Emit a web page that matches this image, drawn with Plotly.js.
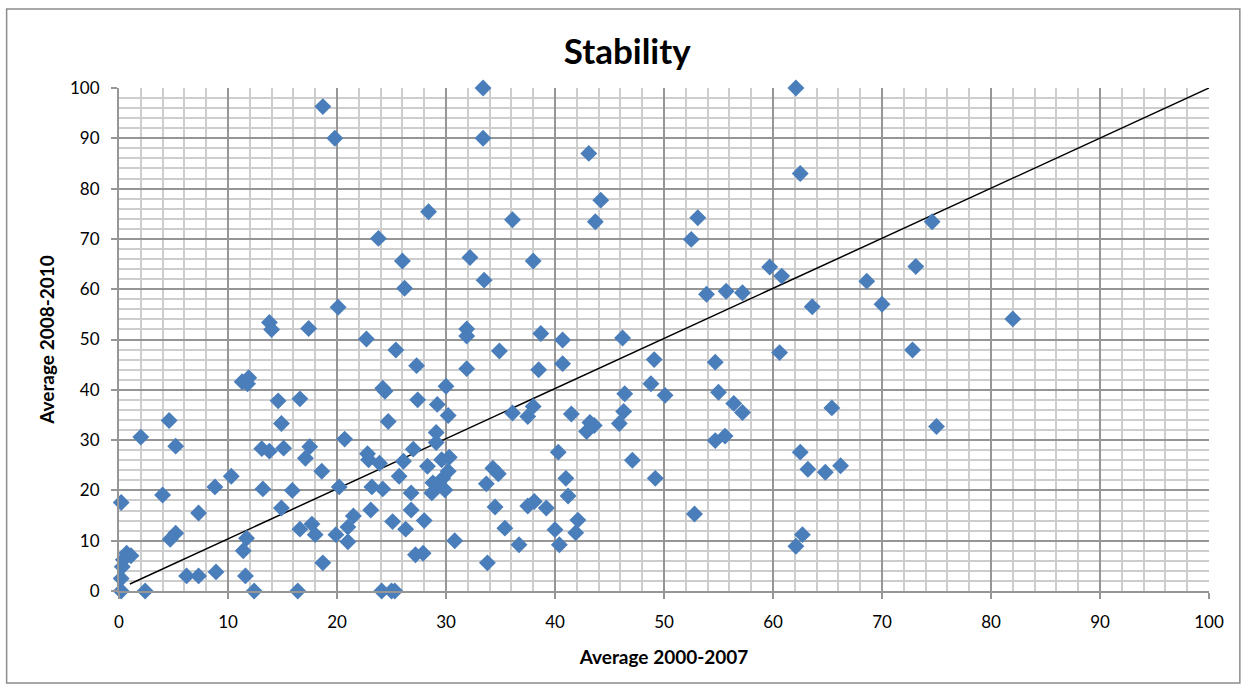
<!DOCTYPE html>
<html>
<head>
<meta charset="utf-8">
<script src="https://cdn.plot.ly/plotly-3.0.1.min.js"></script>
<style>
  html, body { margin: 0; padding: 0; background: #ffffff; }
  #chart { width: 1247px; height: 690px; }
</style>
</head>
<body>
<div id="chart"></div>
<script>
// Average score per country: 2000-2007 (x) against 2008-2010 (y)
const avg2000to2007 = [
  33.4, 33.4, 43.1, 44.2, 43.7, 28.4, 36.1, 23.8, 26.0, 32.2,
  38.0, 18.7, 19.8, 62.1, 62.5, 53.1, 52.5, 74.6, 59.7, 73.1,
  60.8, 53.9, 55.7, 57.2, 68.6, 63.6, 70.0, 60.6, 54.7, 72.8,
  50.1, 55.0, 56.4, 57.2, 65.4, 75.0, 54.7, 55.6, 62.5, 63.2,
  64.8, 66.2, 49.2, 52.8, 62.7, 62.1, 82.0, 26.2, 20.1, 13.8,
  14.0, 17.4, 22.7, 25.4, 11.9, 11.3, 11.8, 14.6, 16.6, 24.2,
  24.4, 4.6, 14.9, 24.7, 2.0, 5.2, 20.7, 13.1, 13.8, 15.1,
  17.5, 22.8, 17.1, 18.6, 10.3, 8.8, 4.0, 0.2, 13.2, 15.9,
  20.2, 22.9, 23.9, 23.2, 24.2, 23.1, 25.1, 14.9, 7.3, 4.7,
  5.2, 11.7, 11.4, 16.6, 17.7, 18.0, 19.9, 21.0, 21.0, 21.5,
  18.7, 0.7, 1.1, 0.4, 0.3, 0.2, 0.2, 2.4, 6.2, 7.3,
  8.9, 11.6, 12.4, 16.4, 24.1, 25.0, 25.3, 27.0, 26.1, 28.3,
  29.1, 29.1, 29.6, 30.3, 25.7, 26.8, 26.8, 30.2, 29.7, 28.8,
  29.3, 28.7, 29.9, 26.3, 28.0, 27.2, 27.9, 30.8, 33.7, 34.3,
  34.8, 34.5, 35.4, 36.7, 33.8, 37.5, 38.1, 39.2, 40.3, 41.0,
  41.2, 42.1, 41.9, 40.0, 40.4, 47.1, 42.9, 43.6, 43.2, 33.5,
  31.9, 31.9, 27.3, 31.9, 34.9, 38.7, 40.7, 38.5, 40.7, 46.2,
  49.1, 30.0, 27.4, 29.2, 30.2, 36.1, 37.5, 38.0, 41.5, 46.4,
  46.3, 45.9, 48.8
];
const avg2008to2010 = [
  100, 90.0, 87.0, 77.7, 73.4, 75.4, 73.8, 70.1, 65.6, 66.3,
  65.6, 96.3, 90.0, 100, 83.0, 74.2, 69.9, 73.4, 64.4, 64.5,
  62.6, 59.0, 59.6, 59.3, 61.6, 56.5, 57.0, 47.4, 45.5, 47.9,
  38.9, 39.5, 37.3, 35.5, 36.4, 32.7, 29.9, 30.8, 27.6, 24.2,
  23.6, 24.9, 22.4, 15.3, 11.2, 8.9, 54.1, 60.2, 56.4, 53.4,
  52.0, 52.2, 50.1, 47.9, 42.4, 41.6, 41.2, 37.8, 38.2, 40.3,
  39.7, 33.9, 33.3, 33.7, 30.6, 28.8, 30.2, 28.3, 27.8, 28.4,
  28.7, 27.3, 26.4, 23.8, 22.8, 20.7, 19.1, 17.6, 20.3, 20.0,
  20.7, 26.1, 25.4, 20.7, 20.3, 16.1, 13.8, 16.5, 15.5, 10.3,
  11.5, 10.5, 8.0, 12.3, 13.3, 11.2, 11.2, 12.7, 9.8, 14.9,
  5.6, 7.5, 7.0, 6.2, 4.8, 2.5, 0, 0, 3.0, 3.0,
  3.8, 3.0, 0, 0, 0, 0, 0, 28.2, 25.8, 24.8,
  31.5, 29.5, 26.1, 26.6, 22.8, 19.5, 16.1, 23.8, 22.4, 21.5,
  21.1, 19.5, 20.1, 12.3, 14.0, 7.2, 7.5, 10.0, 21.3, 24.4,
  23.3, 16.7, 12.5, 9.2, 5.6, 16.9, 17.8, 16.5, 27.6, 22.4,
  18.9, 14.1, 11.6, 12.2, 9.2, 26.0, 31.7, 32.9, 33.5, 61.8,
  52.1, 50.7, 44.8, 44.2, 47.7, 51.2, 49.9, 44.0, 45.2, 50.3,
  46.0, 40.7, 38.0, 37.1, 34.9, 35.4, 34.7, 36.7, 35.2, 39.2,
  35.7, 33.3, 41.2
];

// Reference diagonal (equal averages in both periods)
const diagonalX = [1, 100];
const diagonalY = [1.4, 100];

const fontFamily = 'Lato, "Open Sans", sans-serif';
const tickFont = { family: fontFamily, size: 17, color: '#000000' };
const axisTitleFont = { family: fontFamily, size: 19, color: '#000000', weight: 'bold' };

const traces = [
  {
    type: 'scatter',
    mode: 'lines',
    x: diagonalX,
    y: diagonalY,
    line: { color: '#000000', width: 1.5 },
    hoverinfo: 'skip',
    showlegend: false
  },
  {
    type: 'scatter',
    mode: 'markers',
    x: avg2000to2007,
    y: avg2008to2010,
    cliponaxis: false,
    marker: { symbol: 'diamond', size: 13, color: '#4A7EBB', line: { width: 0 } },
    showlegend: false
  }
];

const gridMajor = '#969696';
const gridMinor = '#CDCDCD';

const layout = {
  width: 1247,
  height: 690,
  margin: { l: 119, r: 38, t: 88, b: 99 },
  paper_bgcolor: '#ffffff',
  plot_bgcolor: '#ffffff',
  showlegend: false,
  title: {
    text: '<b>Stability</b>',
    font: { family: fontFamily, size: 35, color: '#000000' },
    x: 0.503, xref: 'container', xanchor: 'center',
    y: 0.925, yref: 'container', yanchor: 'middle'
  },
  xaxis: {
    range: [0, 100],
    dtick: 10,
    tick0: 0,
    ticks: 'outside',
    ticklen: 6,
    tickcolor: gridMajor,
    tickwidth: 2,
    tickfont: tickFont,
    ticklabelstandoff: 9,
    showgrid: true,
    gridcolor: gridMajor,
    gridwidth: 2,
    zeroline: false,
    showline: true,
    linecolor: gridMajor,
    linewidth: 2,
    minor: { dtick: 2, showgrid: true, gridcolor: gridMinor, gridwidth: 2 },
    title: { text: 'Average 2000-2007', font: axisTitleFont, standoff: 19 },
    fixedrange: true
  },
  yaxis: {
    range: [0, 100],
    dtick: 10,
    tick0: 0,
    ticks: 'outside',
    ticklen: 6,
    tickcolor: gridMajor,
    tickwidth: 2,
    tickfont: tickFont,
    ticklabelstandoff: 8,
    showgrid: true,
    gridcolor: gridMajor,
    gridwidth: 2,
    zeroline: false,
    showline: true,
    linecolor: gridMajor,
    linewidth: 2,
    minor: { dtick: 2, showgrid: true, gridcolor: gridMinor, gridwidth: 2 },
    title: { text: 'Average 2008-2010', font: axisTitleFont, standoff: 10 },
    fixedrange: true
  },
  shapes: [
    // outer chart frame
    {
      type: 'rect', xref: 'paper', yref: 'paper',
      x0: -0.1031, x1: 1.0283, y0: -0.183, y1: 1.157,
      line: { color: '#8C8C8C', width: 1.5 },
      fillcolor: 'rgba(0,0,0,0)',
      layer: 'below'
    }
  ]
};

Plotly.newPlot('chart', traces, layout, { displayModeBar: false, staticPlot: true });
</script>
</body>
</html>
